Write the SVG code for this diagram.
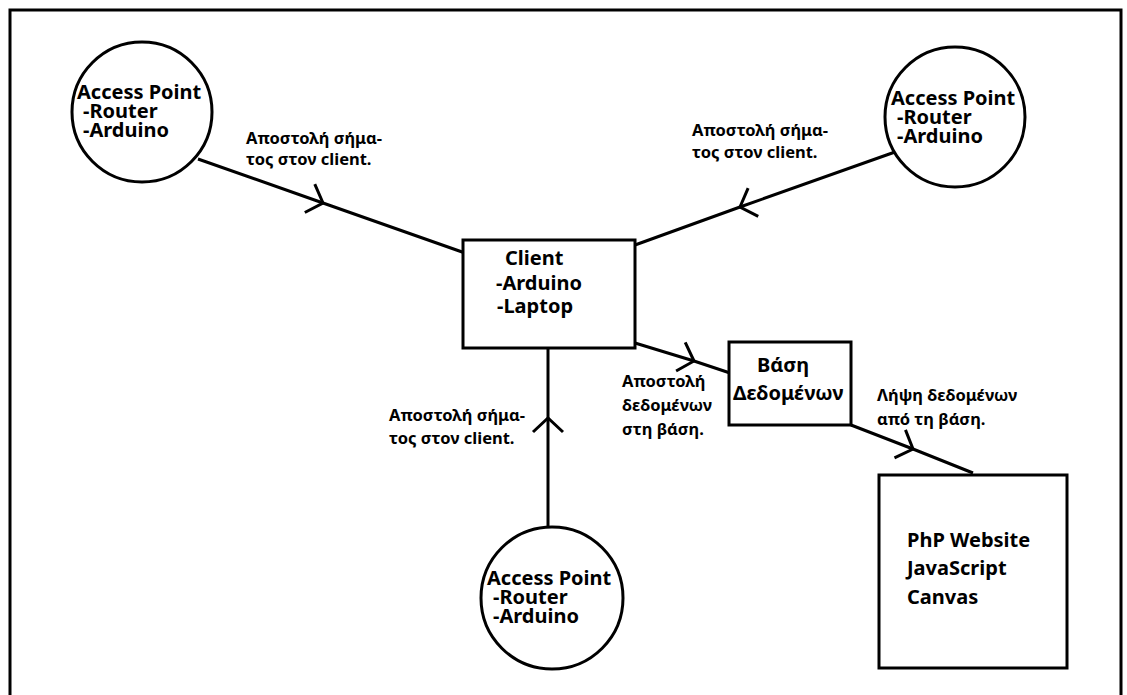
<svg xmlns="http://www.w3.org/2000/svg" width="1127" height="695" viewBox="0 0 1127 695">
  <style>
    .shape { fill: #ffffff; stroke: #000000; stroke-width: 3; }
    .wire { fill: none; stroke: #000000; stroke-width: 3; marker-mid: url(#chev); }
    .node-text { font-family: "Noto Sans", "Open Sans", "DejaVu Sans", sans-serif; font-weight: bold; font-size: 20px; fill: #000000; }
    .label { font-family: "Noto Sans", "Open Sans", "DejaVu Sans", sans-serif; font-weight: bold; font-size: 16.5px; fill: #000000; }
  </style>
  <defs>
    <marker id="chev" markerUnits="userSpaceOnUse" viewBox="-25 -25 50 50" markerWidth="50" markerHeight="50" refX="0" refY="0" orient="auto">
      <path d="M-14,-15 L0,0 L-14,15" fill="none" stroke="#000000" stroke-width="3"/>
    </marker>
  </defs>
  <rect x="0" y="0" width="1127" height="695" fill="#ffffff"/>
  <path id="frame" d="M10,695 V10 H1121 V695" fill="none" stroke="#000000" stroke-width="3"/>

  <g id="connectors">
    <path class="wire" d="M198,159 L323,203 L465,253"/>
    <path class="wire" d="M895,152 L740,207 L635,245"/>
    <path class="wire" d="M548,527 L548,418 L548,348"/>
    <path class="wire" d="M635,343 L694,361 L730,373"/>
    <path class="wire" d="M851,425 L913,449 L973,473"/>
    <text class="label"><tspan x="246" y="144">Αποστολή σήμα-</tspan><tspan x="246" y="165">τος στον client.</tspan></text>
    <text class="label"><tspan x="692" y="136">Αποστολή σήμα-</tspan><tspan x="692" y="158">τος στον client.</tspan></text>
    <text class="label"><tspan x="389" y="421">Αποστολή σήμα-</tspan><tspan x="389" y="444">τος στον client.</tspan></text>
    <text class="label"><tspan x="622" y="387">Αποστολή</tspan><tspan x="622" y="411">δεδομένων</tspan><tspan x="622" y="435">στη βάση.</tspan></text>
    <text class="label"><tspan x="877" y="401">Λήψη δεδομένων</tspan><tspan x="877" y="425">από τη βάση.</tspan></text>
  </g>

  <g id="ap-top-left">
    <circle class="shape" cx="142" cy="112" r="70"/>
    <text class="node-text"><tspan x="77" y="99">Access Point</tspan><tspan x="83" y="118">-Router</tspan><tspan x="83" y="137">-Arduino</tspan></text>
  </g>

  <g id="ap-top-right">
    <circle class="shape" cx="955" cy="117" r="70"/>
    <text class="node-text"><tspan x="891" y="105">Access Point</tspan><tspan x="897" y="124">-Router</tspan><tspan x="897" y="143">-Arduino</tspan></text>
  </g>

  <g id="ap-bottom">
    <circle class="shape" cx="552" cy="598" r="71"/>
    <text class="node-text"><tspan x="487" y="585">Access Point</tspan><tspan x="493" y="604">-Router</tspan><tspan x="493" y="623">-Arduino</tspan></text>
  </g>

  <g id="client">
    <rect class="shape" x="463" y="240" width="172" height="108"/>
    <text class="node-text"><tspan x="505" y="265">Client</tspan><tspan x="496" y="290">-Arduino</tspan><tspan x="497" y="313">-Laptop</tspan></text>
  </g>

  <g id="database">
    <rect class="shape" x="729" y="342" width="122" height="83"/>
    <text class="node-text"><tspan x="757" y="372">Βάση</tspan><tspan x="733" y="400">Δεδομένων</tspan></text>
  </g>

  <g id="website">
    <rect class="shape" x="879" y="475" width="188" height="193"/>
    <text class="node-text"><tspan x="907" y="547">PhP Website</tspan><tspan x="907" y="575">JavaScript</tspan><tspan x="907" y="604">Canvas</tspan></text>
  </g>
</svg>
